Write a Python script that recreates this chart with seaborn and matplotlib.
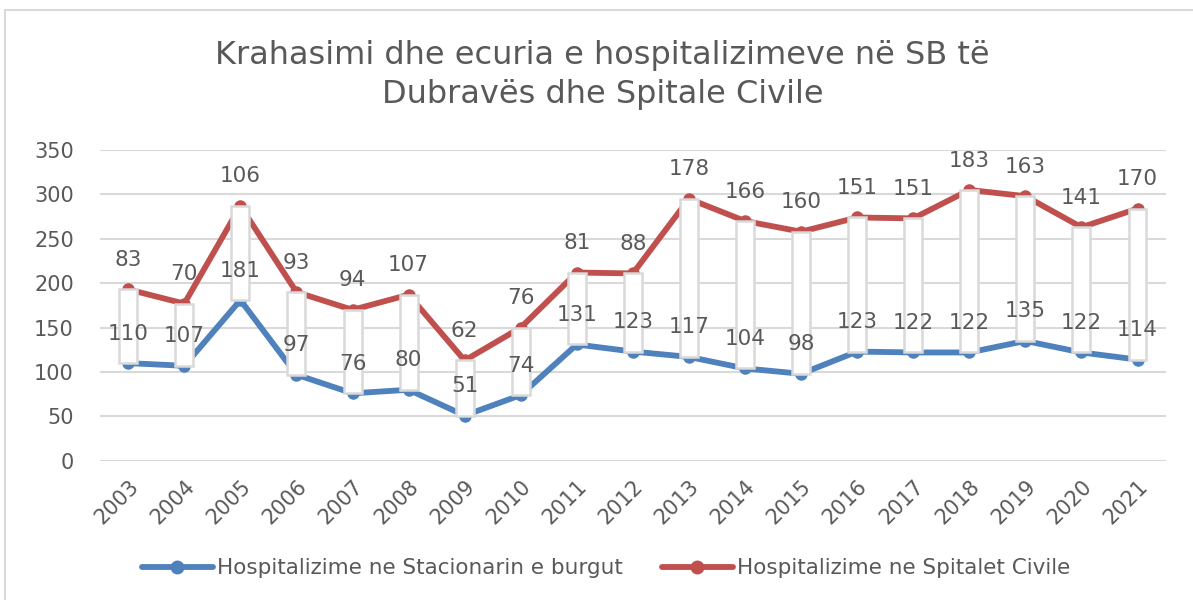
import matplotlib
matplotlib.use("Agg")
import matplotlib.pyplot as plt
from matplotlib.patches import Rectangle
from matplotlib.lines import Line2D
import pandas as pd
import seaborn as sns

years = [str(y) for y in range(2003, 2022)]
burgu = [110, 107, 181, 97, 76, 80, 51, 74, 131, 123, 117, 104, 98, 123, 122, 122, 135, 122, 114]
civile = [83, 70, 106, 93, 94, 107, 62, 76, 81, 88, 178, 166, 160, 151, 151, 183, 163, 141, 170]

label_burgu = "Hospitalizime ne Stacionarin e burgut"
label_civile = "Hospitalizime ne Spitalet Civile"
title = "Krahasimi dhe ecuria e hospitalizimeve në SB të\nDubravës dhe Spitale Civile"

BLUE = "#4F81BD"
RED = "#C0504D"
GREY_TXT = "#595959"
GRID = "#D9D9D9"

sns.set_theme(style="white")
plt.rcParams["font.family"] = ["DejaVu Sans"]

df = pd.DataFrame({"year": years, "burgu": burgu, "civile": civile})
df["x"] = range(len(df))
df["top"] = df["burgu"] + df["civile"]

fig = plt.figure(figsize=(11.93, 6.0), dpi=100)
ax = fig.add_axes([0.084, 0.232, 0.893, 0.518])

# outer chart border
fig.patches.append(Rectangle((0.004, -0.05), 1.2, 1.033, transform=fig.transFigure,
                             fill=False, edgecolor=GRID, linewidth=1.5))

sns.lineplot(data=df, x="x", y="burgu", ax=ax, color=BLUE, linewidth=4.2,
             marker="o", markersize=9, markeredgewidth=0, zorder=3)
sns.lineplot(data=df, x="x", y="top", ax=ax, color=RED, linewidth=4.2,
             marker="o", markersize=9, markeredgewidth=0, zorder=3)

# up/down bars
ax.bar(df["x"], df["civile"], bottom=df["burgu"], width=0.32, color="white",
       edgecolor=GRID, linewidth=1.8, zorder=4)

for i, row in df.iterrows():
    ax.annotate(str(row["burgu"]), (row["x"], row["burgu"]), xytext=(0, 14),
                textcoords="offset points", ha="center", va="bottom",
                fontsize=15.5, color=GREY_TXT, zorder=5)
    ax.annotate(str(row["civile"]), (row["x"], row["top"]), xytext=(0, 14),
                textcoords="offset points", ha="center", va="bottom",
                fontsize=15.5, color=GREY_TXT, zorder=5)

ax.set_xlim(-0.5, len(years) - 0.5)
ax.set_ylim(0, 350)
ax.set_yticks(range(0, 351, 50))
ax.set_xticks(df["x"])
ax.set_xticklabels(years, rotation=45, ha="right", rotation_mode="anchor")
ax.tick_params(axis="both", labelsize=15, colors=GREY_TXT, length=0)
ax.tick_params(axis="y", pad=19)
ax.tick_params(axis="x", pad=11)
ax.grid(axis="y", color=GRID, linewidth=1.5, zorder=0)
ax.set_axisbelow(True)
for s in ax.spines.values():
    s.set_visible(False)
ax.set_xlabel("")
ax.set_ylabel("")

fig.text(0.505, 0.875, title, ha="center", va="center", fontsize=23,
         color=GREY_TXT, linespacing=1.35)

handles = [
    Line2D([0], [0], color=BLUE, linewidth=4.2, marker="o", markersize=9),
    Line2D([0], [0], color=RED, linewidth=4.2, marker="o", markersize=9),
]
fig.legend(handles, [label_burgu, label_civile], loc="center", ncol=2,
           bbox_to_anchor=(0.508, 0.053), frameon=False, fontsize=15.5,
           labelcolor=GREY_TXT, handlelength=3.3, handletextpad=0.2,
           columnspacing=1.8)

fig.savefig("out.png", dpi=100)
